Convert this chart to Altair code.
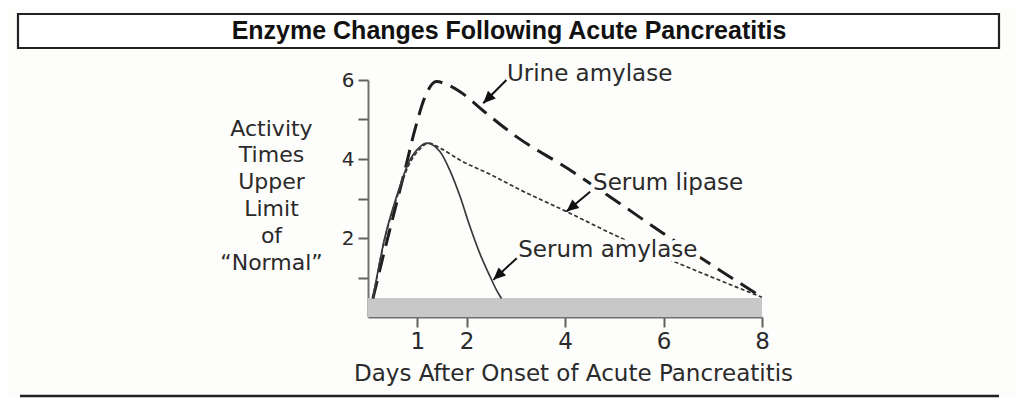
import math
import altair as alt
import pandas as pd

# ---------------- data ----------------
TITLE = "Enzyme Changes Following Acute Pancreatitis"
X_TITLE = "Days After Onset of Acute Pancreatitis"
Y_TITLE = ["Activity", "Times", "Upper", "Limit", "of", "\u201cNormal\u201d"]

x_ticks = [1, 2, 4, 6, 8]
y_ticks = [1, 2, 3, 4, 5, 6]

urine_days = [0.1, 0.3, 0.51, 0.75, 0.95, 1.16, 1.39, 1.63, 1.87, 2.38, 3.02, 4.04, 5.0, 5.99, 7.0, 8.0]
urine_vals = [0.47, 1.5, 2.54, 3.72, 4.73, 5.58, 5.96, 5.87, 5.70, 5.18, 4.56, 3.77, 2.97, 2.12, 1.30, 0.5]

lipase_days = [0.1, 0.345, 0.58, 0.85, 1.05, 1.23, 1.5, 1.87, 2.5, 3.09, 4.03, 5.0, 6.0, 7.0, 8.0]
lipase_vals = [0.47, 2.0, 3.0, 3.9, 4.25, 4.40, 4.25, 3.97, 3.60, 3.22, 2.67, 2.08, 1.52, 1.0, 0.5]

amylase_days = [0.1, 0.345, 0.58, 0.85, 1.05, 1.19, 1.46, 1.66, 1.87, 2.07, 2.27, 2.48, 2.61, 2.71]
amylase_vals = [0.47, 2.03, 3.05, 3.97, 4.30, 4.40, 4.19, 3.72, 3.05, 2.29, 1.61, 1.02, 0.68, 0.47]

band_start = [0]
band_end = [8]
band_low = [0]
band_high = [0.48]

label_text = ["Urine amylase", "Serum lipase", "Serum amylase"]
label_day = [2.82, 4.57, 3.05]
label_val = [6.15, 3.39, 1.70]

arrow_tail_day = [2.81, 4.51, 3.02]
arrow_tail_val = [6.0, 3.17, 1.49]
arrow_tip_day = [2.34, 4.03, 2.545]
arrow_tip_val = [5.41, 2.67, 0.94]

# ---------------- layout ----------------
W, H = 394, 237
PAD = {"left": 360, "top": 72, "right": 254, "bottom": 81}
INK = "#2a2a2a"
BG = "#fdfdfb"
FONT = "DejaVu Sans"

xs = alt.Scale(domain=[0, 8], nice=False, zero=False)
ys = alt.Scale(domain=[0, 6], nice=False, zero=False)

x_axis = alt.Axis(
    values=x_ticks, grid=False, domainColor="#707070", domainWidth=2,
    tickColor="#606060", tickWidth=2, tickSize=10,
    labelFont=FONT, labelFontSize=23, labelColor=INK, labelPadding=3,
    labelFlush=False,
    title=X_TITLE, titleFont=FONT, titleFontSize=23, titleFontWeight="normal",
    titleColor=INK, titleX=205, titleY=56, titleAlign="center",
    titleBaseline="middle", titleAnchor="start",
)
y_axis = alt.Axis(
    values=y_ticks, grid=False, domainColor="#707070", domainWidth=2,
    tickColor="#606060", tickWidth=2, tickSize=10,
    labelFont=FONT, labelFontSize=20, labelColor=INK, labelPadding=4,
    labelExpr="datum.value % 2 == 0 ? datum.label : ''", labelFlush=False,
    title=Y_TITLE, titleFont=FONT, titleFontSize=22, titleFontWeight="normal",
    titleColor=INK, titleAngle=0, titleX=-97, titleY=48, titleAlign="center",
    titleBaseline="middle", titleLineHeight=26.8, titleAnchor="start",
)


def series_df(days, vals):
    return pd.DataFrame({"day": days, "val": vals, "ord": list(range(len(days)))})


X = alt.X("day:Q", scale=xs, axis=x_axis)
Y = alt.Y("val:Q", scale=ys, axis=y_axis)

band = alt.Chart(pd.DataFrame({"day": band_start, "day2": band_end,
                               "val": band_low, "val2": band_high})).mark_rect(
    color="#c8c8c8").encode(x=X, x2="day2:Q", y=Y, y2="val2:Q")

urine = alt.Chart(series_df(urine_days, urine_vals)).mark_line(
    color="#1e1e1e", strokeWidth=3, strokeDash=[18, 9], interpolate="monotone"
).encode(x=X, y=Y, order="ord:Q")

lipase = alt.Chart(series_df(lipase_days, lipase_vals)).mark_line(
    color="#333333", strokeWidth=1.7, strokeDash=[4, 2.5], interpolate="monotone"
).encode(x=X, y=Y, order="ord:Q")

amylase = alt.Chart(series_df(amylase_days, amylase_vals)).mark_line(
    color="#3a3a3a", strokeWidth=1.7, interpolate="monotone"
).encode(x=X, y=Y, order="ord:Q")

# arrows
ppd, ppv = W / 8, H / 6
angles = []
for td, tv, hd, hv in zip(arrow_tail_day, arrow_tail_val, arrow_tip_day, arrow_tip_val):
    dx = (hd - td) * ppd
    dy_down = -(hv - tv) * ppv
    a = math.degrees(math.atan2(dx, -dy_down)) % 360
    angles.append(a)

arrow_df = pd.DataFrame({"day": arrow_tip_day, "val": arrow_tip_val,
                         "day2": arrow_tail_day, "val2": arrow_tail_val,
                         "ang": angles})
shafts = alt.Chart(arrow_df).mark_rule(color="#111111", strokeWidth=2).encode(
    x=X, y=Y, x2="day2:Q", y2="val2:Q")
heads = alt.Chart(arrow_df).mark_point(
    shape="M0,0 L-0.45,1 L0.45,1 Z", filled=True, color="#111111", opacity=1,
    size=600
).encode(x=X, y=Y, angle=alt.Angle("ang:Q", scale=None))

label_df = pd.DataFrame({"day": label_day, "val": label_val, "txt": label_text})
halo = alt.Chart(label_df).mark_text(
    align="left", baseline="middle", font=FONT, fontSize=23, color=BG,
    stroke=BG, strokeWidth=9, strokeJoin="round"
).encode(x=X, y=Y, text="txt:N")
labels = alt.Chart(label_df).mark_text(
    align="left", baseline="middle", font=FONT, fontSize=23, color=INK
).encode(x=X, y=Y, text="txt:N")

# decorations: title box, title text, bottom rule
box = alt.Chart(pd.DataFrame({"k": [0]})).mark_rect(
    fill="white", stroke="#222222", strokeWidth=2.2
).encode(x=alt.value(-350), x2=alt.value(631), y=alt.value(-66), y2=alt.value(-32))

title_txt = alt.Chart(pd.DataFrame({"t": [TITLE]})).mark_text(
    align="center", baseline="middle", font="Liberation Sans", fontWeight="bold",
    fontSize=25, color="#111111"
).encode(x=alt.value(141), y=alt.value(-49), text="t:N")

bottom_rule = alt.Chart(pd.DataFrame({"k": [0]})).mark_rule(
    color="#222222", strokeWidth=2.5
).encode(x=alt.value(-348), x2=alt.value(631), y=alt.value(316))

chart = alt.layer(
    band, urine, lipase, amylase, halo, shafts, heads, labels,
    box, title_txt, bottom_rule
).properties(
    width=W, height=H,
    autosize=alt.AutoSizeParams(type="none"),
    padding=PAD,
    background=BG,
).configure_view(stroke=None)

chart.save("out.html", embed_options={"renderer": "svg", "actions": False})
